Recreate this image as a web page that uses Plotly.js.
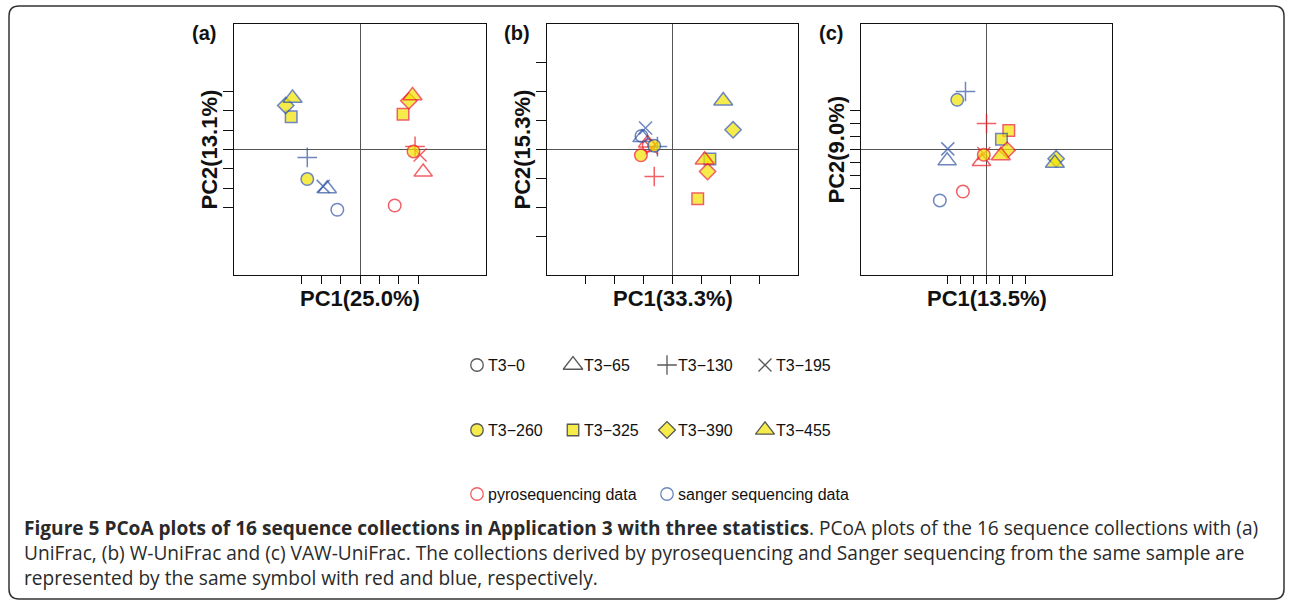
<!DOCTYPE html>
<html><head><meta charset="utf-8">
<script src="https://cdn.plot.ly/plotly-3.0.1.min.js"></script>
<style>html,body{margin:0;padding:0;background:#fff;} #chart{width:1292px;height:602px;}</style>
</head><body><div id="chart"></div>
<script>
// ---- data ----
const samples = ['T3-0','T3-65','T3-130','T3-195','T3-260','T3-325','T3-390','T3-455'];
const sampleLabels = ['T3\u22120','T3\u221265','T3\u2212130','T3\u2212195','T3\u2212260','T3\u2212325','T3\u2212390','T3\u2212455'];
const groupLabels = ['pyrosequencing data','sanger sequencing data'];
const panelLabels = ['(a)','(b)','(c)'];
const xTitles = ['PC1(25.0%)','PC1(33.3%)','PC1(13.5%)'];
const yTitles = ['PC2(13.1%)','PC2(15.3%)','PC2(9.0%)'];
const tickValues = [-3,-2,-1,0,1,2,3];

// panel (a) UniFrac
const aPyroX   = [1.79, 3.26, 2.84, 3.10, 2.76, 2.22, 2.52, 2.71];
const aPyroY   = [-2.90,-1.17, 0.16,-0.28,-0.10, 1.83, 2.52, 2.79];
const aSangerX = [-1.17,-1.69,-2.72,-1.90,-2.72,-3.55,-3.83,-3.48];
const aSangerY = [-3.12,-2.03,-0.41,-1.91,-1.53, 1.69, 2.28, 2.66];
// panel (b) W-UniFrac
const bPyroX   = [-0.82,-0.86,-0.63,-0.72,-1.09, 0.87, 1.21, 1.11];
const bPyroY   = [ 0.14, 0.22,-0.93, 0.05,-0.20,-1.70,-0.76,-0.36];
const bSangerX = [-1.07,-1.05,-0.52,-0.93,-0.63, 1.29, 2.09, 1.75];
const bSangerY = [ 0.47, 0.41, 0.10, 0.74, 0.13,-0.33, 0.68, 1.68];
// panel (c) VAW-UniFrac
const cPyroX   = [-1.83,-0.39, 0.00,-0.21,-0.21, 1.73, 1.60, 1.11];
const cPyroY   = [-3.26,-0.93, 2.02,-0.31,-0.41, 1.47,-0.05,-0.47];
const cSangerX = [-3.62,-3.05,-1.63,-3.00,-2.27, 1.16, 5.40, 5.30];
const cSangerY = [-3.95,-0.88, 4.50, 0.05, 3.85, 0.80,-0.72,-1.06];

// ---- styles ----
const RED = '#ec1c24', BLUE = '#2f52a3', YELLOW = '#f2e400';
const symbols = ['circle-open','triangle-up-open','cross-thin-open','x-thin-open','circle','square','diamond','triangle-up'];
const filled  = [false,false,false,false,true,true,true,true];
const sizes   = [12.5,16,14,13,12.5,11.5,12.5,16.5];
const W = 1292, H = 602;
const panels = [
  {px:[234,486], half:6.5,  data:[aPyroX,aPyroY,aSangerX,aSangerY]},
  {px:[547,798], half:4.33, data:[bPyroX,bPyroY,bSangerX,bSangerY]},
  {px:[861,1112],half:9.73, data:[cPyroX,cPyroY,cSangerX,cSangerY]}
];
const pyTop = 24, pyBot = 275;

const traces = [];
const layout = {
  width: W, height: H, margin:{l:0,r:0,t:0,b:0},
  paper_bgcolor:'#fff', plot_bgcolor:'rgba(0,0,0,0)', showlegend:false,
  font:{family:'Liberation Sans, Arial, sans-serif', color:'#111'},
  annotations:[], shapes:[]
};
function axis(domain, half, anchor){
  return {domain, range:[-half,half], anchor, showgrid:false, zeroline:true,
    zerolinecolor:'#555', zerolinewidth:1, showline:true, mirror:true, linecolor:'#111',
    linewidth:1, ticks:'outside', ticklen:8, tickcolor:'#111', tickwidth:1,
    tickmode:'array', tickvals:tickValues, showticklabels:false, fixedrange:true};
}
panels.forEach((p,i)=>{
  const n = i+1;
  const xd = [p.px[0]/W, p.px[1]/W], yd = [1-pyBot/H, 1-pyTop/H];
  const xa = axis(xd, p.half, 'y'+n), ya = axis(yd, p.half, 'x'+n);
  ya.ticklen = 10;
  layout['xaxis'+n] = xa; layout['yaxis'+n] = ya;
  const [px_, py_, sx_, sy_] = p.data;
  const X=[],Y=[],S=[],Z=[],C=[],LC=[],T=[];
  samples.forEach((s,k)=>{
    [[px_,py_,RED,'pyro'],[sx_,sy_,BLUE,'sanger']].forEach(([gx,gy,col,g])=>{
      X.push(gx[k]); Y.push(gy[k]); S.push(symbols[k]); Z.push(sizes[k]);
      C.push(filled[k]?YELLOW:col); LC.push(col); T.push(s+' '+g);
    });
  });
  traces.push({type:'scatter', mode:'markers', x:X, y:Y, text:T, xaxis:'x'+n, yaxis:'y'+n,
    marker:{symbol:S, size:Z, color:C, line:{color:LC, width:1.5}}, cliponaxis:false, hoverinfo:'text'});
  const cx = (p.px[0]+p.px[1])/2, cy = (pyTop+pyBot)/2;
  layout.annotations.push({xref:'x4',yref:'y4',x:p.px[0]-30,y:33,text:'<b>'+panelLabels[i]+'</b>',showarrow:false,font:{size:20}});
  layout.annotations.push({xref:'x4',yref:'y4',x:cx,y:298,text:'<b>'+xTitles[i]+'</b>',showarrow:false,font:{size:22}});
  layout.annotations.push({xref:'x4',yref:'y4',x:p.px[0]-25,y:cy,text:'<b>'+yTitles[i]+'</b>',textangle:-90,showarrow:false,font:{size:22}});
});
// overlay pixel axes for legend, caption and frame
layout.xaxis4 = {domain:[0,1], range:[0,W], visible:false, fixedrange:true, anchor:'y4'};
layout.yaxis4 = {domain:[0,1], range:[H,0], visible:false, fixedrange:true, anchor:'x4'};

// legend keys (layout positions)
const legCols = [477, 573, 667, 765];
const legRows = [365, 430, 494];
const LX=[],LY=[],LS=[],LZ=[],LCc=[],LL=[];
const legSizes = [12.5,17,14,13,12.5,11.5,13,16.5];
samples.forEach((s,k)=>{
  const r = k<4?0:1, c = k%4;
  LX.push(legCols[c]); LY.push(legRows[r]); LS.push(symbols[k]); LZ.push(legSizes[k]);
  LCc.push(filled[k]?YELLOW:'#111'); LL.push('#111');
  layout.annotations.push({xref:'x4',yref:'y4',x:legCols[c]+9,y:legRows[r],xanchor:'left',
    text:sampleLabels[k],showarrow:false,font:{size:16,color:'#111'}});
});
[RED,BLUE].forEach((col,g)=>{
  const c = g*2;
  LX.push(legCols[c]); LY.push(legRows[2]); LS.push('circle-open'); LZ.push(12.5); LCc.push(col); LL.push(col);
  layout.annotations.push({xref:'x4',yref:'y4',x:legCols[c]+9,y:legRows[2],xanchor:'left',
    text:groupLabels[g],showarrow:false,font:{size:16,color:'#111'}});
});
traces.push({type:'scatter', mode:'markers', x:LX, y:LY, xaxis:'x4', yaxis:'y4',
  marker:{symbol:LS, size:LZ, color:LCc, line:{color:LL, width:1.3}}, hoverinfo:'skip', cliponaxis:false});

// caption (one multi-line text)
const capFont = {family:'Open Sans, Noto Sans, sans-serif', size:19.1, color:'#2a2a2a'};
const capLines = [
  '<b>Figure 5 PCoA plots of 16 sequence collections in Application 3 with three statistics</b>. PCoA plots of the 16 sequence collections with (a)',
  'UniFrac, (b) W-UniFrac and (c) VAW-UniFrac. The collections derived by pyrosequencing and Sanger sequencing from the same sample are',
  'represented by the same symbol with red and blue, respectively.'
];
layout.annotations.push({xref:'x4',yref:'y4',x:22,y:553,xanchor:'left',yanchor:'middle',align:'left',
  text:capLines.join('<br>'),showarrow:false,font:capFont});

// frame
layout.shapes.push({type:'path', xref:'x4', yref:'y4',
  path:'M19,6 H1274 Q1284,6 1284,16 V589 Q1284,599 1274,599 H19 Q9,599 9,589 V16 Q9,6 19,6 Z',
  line:{color:'#333', width:1.5}, fillcolor:'rgba(0,0,0,0)', layer:'above'});

Plotly.newPlot('chart', traces, layout, {displayModeBar:false, staticPlot:true});
</script></body></html>
